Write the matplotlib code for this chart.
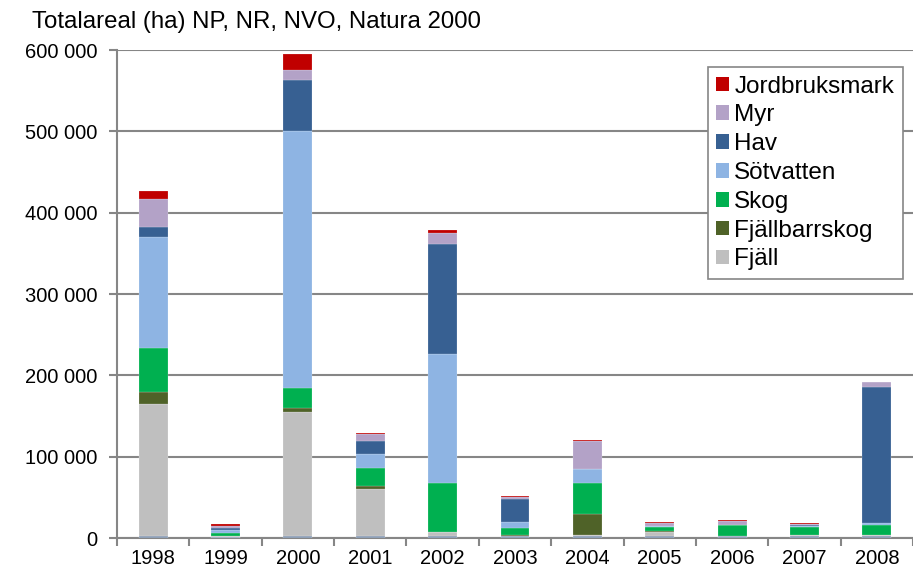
import numpy as np
import matplotlib.pyplot as plt
from matplotlib.ticker import FuncFormatter

plt.rcParams['font.family'] = ['Liberation Sans', 'DejaVu Sans']

years = ['1998', '1999', '2000', '2001', '2002', '2003', '2004', '2005', '2006', '2007', '2008']

# hectares per land type, bottom to top
ovrigt = [2000, 1500, 2000, 2000, 2000, 2000, 2000, 3000, 2000, 3000, 3000]
fjall = [162700, 500, 153300, 58000, 5000, 1000, 1700, 4500, 500, 1000, 500]
fjallbarrskog = [15000, 300, 4900, 4400, 500, 500, 26300, 1600, 0, 0, 0]
skog = [53600, 4000, 24300, 21700, 60500, 8500, 37600, 4900, 13100, 9000, 13000]
sotvatten = [136400, 4000, 316000, 16900, 157900, 8200, 17200, 800, 500, 1200, 2000]
hav = [12300, 2000, 62600, 16000, 135600, 27800, 0, 0, 0, 2000, 167000]
myr = [34400, 2500, 12400, 8600, 13100, 2000, 34100, 3300, 4500, 1200, 5700]
jordbruksmark = [9800, 2000, 19300, 1500, 4100, 1200, 2100, 1600, 1500, 800, 500]

series = [
    ('_nolegend_', ovrigt, '#8497B0'),
    ('Fjäll', fjall, '#BFBFBF'),
    ('Fjällbarrskog', fjallbarrskog, '#4F6228'),
    ('Skog', skog, '#00B050'),
    ('Sötvatten', sotvatten, '#8EB4E3'),
    ('Hav', hav, '#376092'),
    ('Myr', myr, '#B3A2C7'),
    ('Jordbruksmark', jordbruksmark, '#C00000'),
]

fig = plt.figure(figsize=(9.13, 5.74), dpi=100)
ax = fig.add_axes([117 / 913, 36 / 574, 796 / 913, 488 / 574])

x = np.arange(len(years))
bottom = np.zeros(len(years))
for label, vals, color in series:
    vals = np.array(vals, dtype=float)
    ax.bar(x, vals, 0.4, bottom=bottom, label=label, color=color,
           edgecolor=(1, 1, 1, 0.45), linewidth=0.3, zorder=3)
    bottom += vals

ax.set_ylim(0, 600000)
ax.set_xlim(-0.5, 10.36)
ax.set_yticks(np.arange(0, 600001, 100000))
ax.yaxis.set_major_formatter(FuncFormatter(lambda v, p: '{:,.0f}'.format(v).replace(',', ' ')))
ax.yaxis.grid(True, color='#868686', linewidth=1.5, zorder=0)

ax.set_xticks(np.arange(-0.5, 11, 1))
ax.set_xticklabels([])
ax.set_xticks(x, minor=True)
ax.set_xticklabels(years, minor=True)
ax.tick_params(axis='x', which='major', length=6, width=1.5, color='#868686', direction='out')
ax.tick_params(axis='x', which='minor', length=0, pad=8, labelsize=14.5)
ax.tick_params(axis='y', length=6, width=1.5, color='#868686', pad=8, labelsize=14.5)

for s in ['top', 'right']:
    ax.spines[s].set_visible(False)
for s in ['left', 'bottom']:
    ax.spines[s].set_color('#868686')
    ax.spines[s].set_linewidth(1.5)

handles, labels = ax.get_legend_handles_labels()
leg = ax.legend(handles[::-1], labels[::-1], loc='upper right', bbox_to_anchor=(0.987, 0.965),
                borderaxespad=0, fontsize=17.5, handlelength=0.55, handleheight=0.55,
                handletextpad=0.2, labelspacing=0.28, fancybox=False, framealpha=1,
                edgecolor='#868686', borderpad=0.35)
leg.get_frame().set_linewidth(1.2)
for h in leg.legend_handles:
    h.set_edgecolor('none')

fig.text(32 / 913, 1 - 22 / 574, 'Totalareal (ha) NP, NR, NVO, Natura 2000',
         fontsize=17.3, va='center', ha='left')

fig.savefig('out.png', dpi=100)
